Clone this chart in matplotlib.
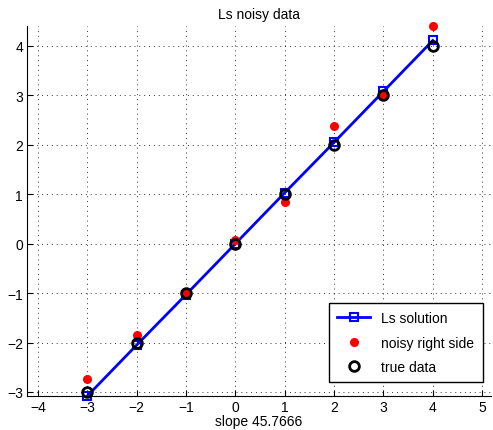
import numpy as np
import matplotlib.pyplot as plt

# data
x = [-3, -2, -1, 0, 1, 2, 3, 4]
ls_solution = [-3.08, -2.05, -1.03, 0.0, 1.03, 2.05, 3.08, 4.11]
noisy_rhs = [-2.73, -1.85, -0.99, 0.07, 0.84, 2.38, 2.98, 4.40]
true_data = [-3, -2, -1, 0, 1, 2, 3, 4]
xticks = [-4, -3, -2, -1, 0, 1, 2, 3, 4, 5]
yticks = [-3, -2, -1, 0, 1, 2, 3, 4]

plt.rcParams['font.family'] = ['Liberation Sans', 'DejaVu Sans']

fig = plt.figure(figsize=(4.93, 4.31), dpi=100)
ax = fig.add_axes([0.055, 0.079, 0.94, 0.858])

ax.plot(x, ls_solution, '-s', color='blue', linewidth=2, markersize=5.5,
        markerfacecolor='none', markeredgewidth=1.5, label='Ls solution', clip_on=False, zorder=3)
ax.plot(x, noisy_rhs, 'o', color='red', markersize=5.5, label='noisy right side',
        clip_on=False, zorder=4)
ax.plot(x, true_data, 'o', color='black', markerfacecolor='none', markersize=7,
        markeredgewidth=2, label='true data', clip_on=False, zorder=5)

ax.set_xlim(-4.22, 5.17)
ax.set_ylim(-3.08, 4.40)
ax.set_xticks(xticks)
ax.set_yticks(yticks)
ax.set_xticklabels([f'{t}'.replace('-', '\u2212') for t in xticks])
ax.set_yticklabels([f'{t}'.replace('-', '\u2212') for t in yticks])
ax.tick_params(direction='in', length=4, labelsize=10, width=0.8, pad=3)
ax.spines['top'].set_visible(False)
ax.spines['right'].set_visible(False)
ax.grid(True, linestyle=(0, (1, 4)), color='black', linewidth=0.7, alpha=0.8)

ax.set_title('Ls noisy data', fontsize=10)
ax.set_xlabel('slope 45.7666', fontsize=10, labelpad=0)

leg = ax.legend(loc='lower right', bbox_to_anchor=(0.983, 0.037), fontsize=10,
                fancybox=False, framealpha=1, edgecolor='black', handlelength=2.4,
                borderaxespad=0, labelspacing=0.75, borderpad=0.6)
leg.get_frame().set_linewidth(1.0)

fig.savefig('out.png', dpi=100)
